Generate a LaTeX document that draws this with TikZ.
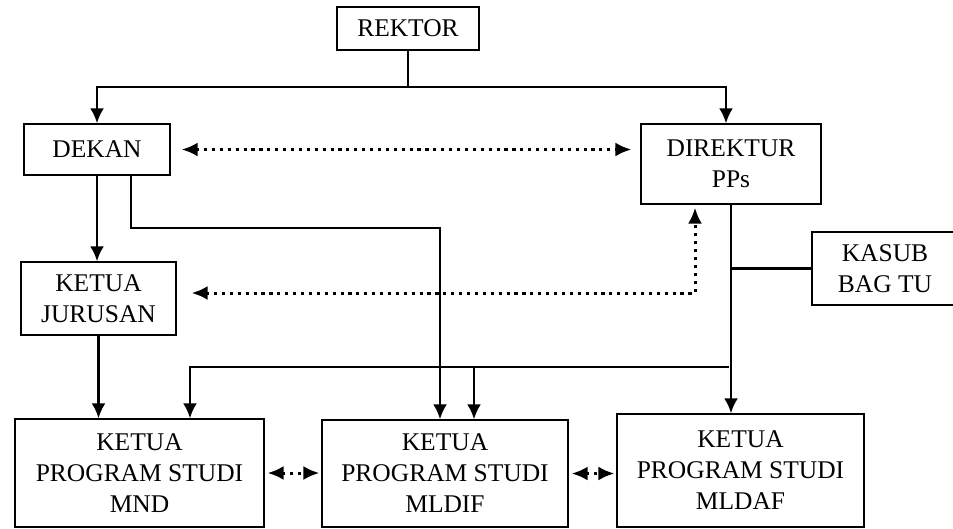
\documentclass[tikz,border=0pt]{standalone}
\usepackage{fontspec}
\setmainfont{Liberation Serif}
\usetikzlibrary{arrows.meta}

\begin{document}
\begin{tikzpicture}[x=0.02cm, y=-0.02cm,
    box/.style={draw, line width=0.7pt, align=center, inner sep=0pt,
        font=\fontsize{14.5}{17.6}\selectfont},
    line/.style={line width=1.6pt},
    arr/.style={line width=1.6pt, -{Latex[length=3mm, width=2.8mm]}},
    dotarr/.style={line width=1.7pt, dash pattern=on 1.8pt off 2.7pt,
        {Latex[length=3.2mm, width=2.8mm]}-{Latex[length=3.2mm, width=2.8mm]}}]
    \clip (0,0) rectangle (953,528);

    % Boxes
    \node[box, minimum width=2.84cm, minimum height=0.86cm] (rektor) at (408,28.5) {REKTOR};
    \node[box, minimum width=2.92cm, minimum height=1.02cm] (dekan) at (97,149.5) {DEKAN};
    \node[box, minimum width=3.6cm, minimum height=1.6cm] (direktur) at (731,164) {DIREKTUR\\PPs};
    \node[box, minimum width=3.1cm, minimum height=1.46cm] (jurusan) at (98.5,298.5) {KETUA\\JURUSAN};
    \node[box, minimum width=2.92cm, minimum height=1.46cm] (kasub) at (885,268.5) {KASUB\\BAG TU};
    \node[box, minimum width=4.98cm, minimum height=2.16cm] (mnd) at (139.5,473) {KETUA\\PROGRAM STUDI\\MND};
    \node[box, minimum width=4.92cm, minimum height=2.14cm] (mldif) at (445,473.5) {KETUA\\PROGRAM STUDI\\MLDIF};
    \node[box, minimum width=4.94cm, minimum height=2.26cm] (mldaf) at (740.5,470.5) {KETUA\\PROGRAM STUDI\\MLDAF};

    % Junction points
    \coordinate (bus1) at (408,87);
    \coordinate (bend) at (440,228);
    \coordinate (dcorner) at (695,293);
    \coordinate (bus2) at (729,367);

    % Rektor to Dekan and Direktur
    \draw[line] (rektor) -- (bus1);
    \draw[arr] (bus1) -| (dekan);
    \draw[arr] (bus1) -| ([xshift=-0.1cm]direktur.north);

    % Dekan lines
    \draw[arr] (dekan.south) -- (dekan.south |- jurusan.north);
    \draw[arr] ([xshift=0.68cm]dekan.south) |- (bend) -- (bend |- mldif.north);
    \draw[arr] (jurusan.south) -- (jurusan.south |- mnd.north);

    % Direktur lines
    \draw[arr] (direktur.south) -- (direktur.south |- mldaf.north);
    \draw[line] (kasub.west) -- (kasub.west -| direktur.south);
    \draw[arr] (bus2) -| ([xshift=1.01cm]mnd.north);
    \draw[arr] ([xshift=0.58cm]mldif.north |- bus2) -- ([xshift=0.58cm]mldif.north);

    % Dotted links
    \draw[dotarr, shorten <=0.22cm, shorten >=0.18cm] (dekan.east) -- (dekan.east -| direktur.west);
    \draw[dotarr, shorten <=0.3cm, shorten >=0.06cm] (jurusan.east |- dcorner) -| (dcorner |- direktur.south);
    \foreach \a/\b in {mnd/mldif, mldif/mldaf}
        \draw[dotarr, shorten <=0.06cm, shorten >=0.04cm] (\a.east) -- (\a.east -| \b.west);
\end{tikzpicture}
\end{document}
